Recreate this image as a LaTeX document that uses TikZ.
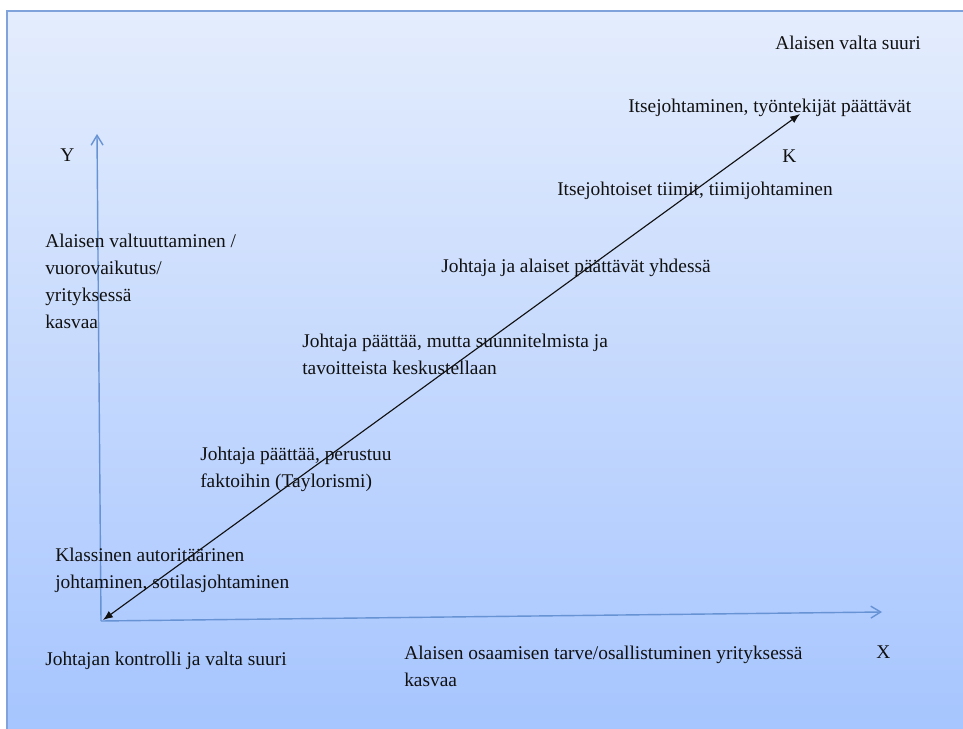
\documentclass[tikz,border=0pt]{standalone}
\usepackage{fontspec}
\setmainfont{Liberation Serif}
\usetikzlibrary{arrows.meta}
\definecolor{bgtop}{HTML}{E4EDFD}
\definecolor{bgbot}{HTML}{A5C4FE}
\definecolor{framecol}{HTML}{7FA3DA}
\definecolor{axiscol}{HTML}{6793D4}
\definecolor{ink}{HTML}{111111}
\tikzset{
  lbl/.style={anchor=west, inner sep=0pt, align=left, text=ink,
    font=\fontsize{13.8pt}{19.2pt}\selectfont},
  axisline/.style={draw=axiscol, line width=1pt,
    -{Straight Barb[length=7pt,width=8.5pt,line width=1pt]}},
  diagline/.style={draw=ink, line width=0.8pt,
    {Latex[length=7pt,width=5.5pt]}-{Latex[length=7pt,width=5.5pt]}}
}
\begin{document}
\begin{tikzpicture}[x=0.025cm,y=-0.025cm]
\useasboundingbox (0,0) rectangle (963,729);
\fill[white] (0,0) rectangle (963,729);
% slide background with vertical gradient
\shade[top color=bgtop, bottom color=bgbot] (7,11) rectangle (980,745);
\draw[framecol, line width=0.9pt] (980,11) -- (7,11) -- (7,745);

% axes
\coordinate (O) at (101,621);
\coordinate (Ytip) at (97,134);
\coordinate (Xtip) at (882,612);
\draw[axisline] (O) -- (Ytip);
\draw[axisline] (O) -- (Xtip);

% development line
\coordinate (Dlow) at (103,620);
\coordinate (Dhigh) at (800,114);
\draw[diagline] (Dlow) -- (Dhigh);

% labels
\node[lbl] (valta) at (775,43) {Alaisen valta suuri};
\node[lbl] (itse) at (628,108) {Itsejohtaminen, työntekijät päättävät};
\node[lbl] (k) at (782,156) {K};
\node[lbl] (tiimit) at (557,191) {Itsejohtoiset tiimit, tiimijohtaminen};
\node[lbl] (yhdessa) at (441,268) {Johtaja ja alaiset päättävät yhdessä};
\node[lbl] (keskust) at (302,354) {Johtaja päättää, mutta suunnitelmista ja\\tavoitteista keskustellaan};
\node[lbl] (taylor) at (200,469) {Johtaja päättää, perustuu\\faktoihin (Taylorismi)};
\node[lbl] (klass) at (55,570) {Klassinen autoritäärinen\\johtaminen, sotilasjohtaminen};
\node[lbl] (kontr) at (45,661) {Johtajan kontrolli ja valta suuri};
\node[lbl] (osaam) at (404,666) {Alaisen osaamisen tarve/osallistuminen yrityksessä\\kasvaa};
\node[lbl] (x) at (876,652) {X};
\node[lbl] (y) at (60,155) {Y};
\node[lbl] (valtuut) at (45,281) {Alaisen valtuuttaminen /\\vuorovaikutus/\\yrityksessä\\kasvaa};
\end{tikzpicture}
\end{document}
